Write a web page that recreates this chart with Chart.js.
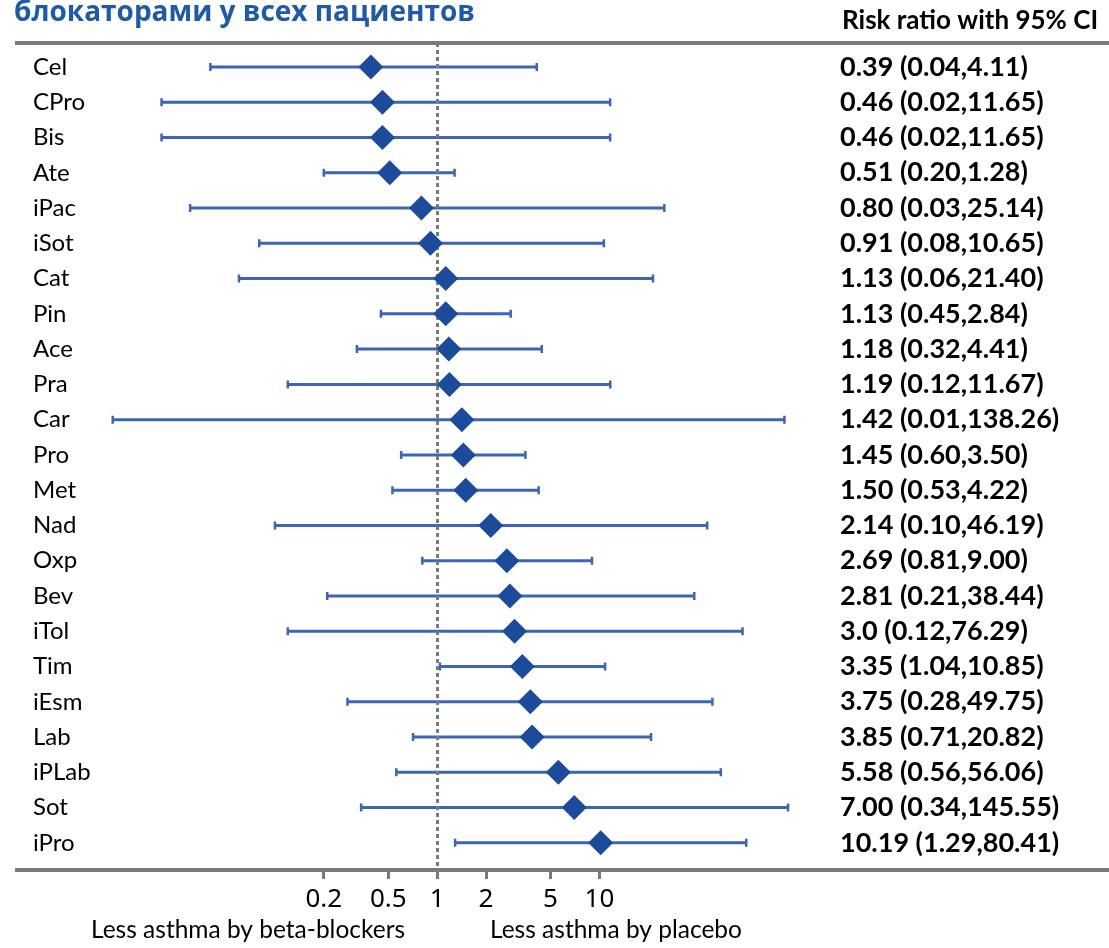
<!DOCTYPE html>
<html>
<head>
    <meta charset="utf-8">
    <title>Forest plot</title>
    <script src="https://cdn.jsdelivr.net/npm/chart.js"></script>
    <style>
        html, body { margin: 0; padding: 0; background: #ffffff; }
        #wrap { position: relative; width: 1109px; height: 948px; }
    </style>
</head>
<body>
    <div id="wrap"><canvas id="forestChart"></canvas></div>

    <script>
        // Drugs, top to bottom
        var drugs = ["Cel", "CPro", "Bis", "Ate", "iPac", "iSot", "Cat", "Pin", "Ace", "Pra", "Car",
            "Pro", "Met", "Nad", "Oxp", "Bev", "iTol", "Tim", "iEsm", "Lab", "iPLab", "Sot", "iPro"];

        // Risk ratio and 95% CI bounds, kept as printed
        var riskRatio = ["0.39", "0.46", "0.46", "0.51", "0.80", "0.91", "1.13", "1.13", "1.18", "1.19", "1.42",
            "1.45", "1.50", "2.14", "2.69", "2.81", "3.0", "3.35", "3.75", "3.85", "5.58", "7.00", "10.19"];
        var ciLower = ["0.04", "0.02", "0.02", "0.20", "0.03", "0.08", "0.06", "0.45", "0.32", "0.12", "0.01",
            "0.60", "0.53", "0.10", "0.81", "0.21", "0.12", "1.04", "0.28", "0.71", "0.56", "0.34", "1.29"];
        var ciUpper = ["4.11", "11.65", "11.65", "1.28", "25.14", "10.65", "21.40", "2.84", "4.41", "11.67", "138.26",
            "3.50", "4.22", "46.19", "9.00", "38.44", "76.29", "10.85", "49.75", "20.82", "56.06", "145.55", "80.41"];

        var xTicks = [0.2, 0.5, 1, 2, 5, 10];

        var titleText = "блокаторами у всех пациентов";
        var columnHeader = "Risk ratio with 95% CI";
        var leftNote = "Less asthma by beta-blockers";
        var rightNote = "Less asthma by placebo";

        var textFont = "Lato, 'Open Sans', sans-serif";
        var lineGray = "#7a7a7a";
        var barBlue = "#3d65b3";
        var diamondBlue = "#1d4b9b";

        var points = drugs.map(function (name, i) {
            return { x: Number(riskRatio[i]), y: i };
        });

        function rowTicks(scale) {
            scale.ticks = drugs.map(function (name, i) { return { value: i }; });
        }

        // keep the row axes from padding the plot area for their end labels
        function rowFit(width) {
            return function (scale) {
                scale.width = width;
                scale.paddingTop = 0;
                scale.paddingBottom = 0;
            };
        }

        // CI whiskers plus the dotted line of no effect, under the diamonds
        var intervalPlugin = {
            id: "intervals",
            beforeDatasetsDraw: function (chart) {
                var ctx = chart.ctx;
                var xs = chart.scales.x;
                var ys = chart.scales.y;
                ctx.save();
                ctx.strokeStyle = barBlue;
                drugs.forEach(function (name, i) {
                    var y = ys.getPixelForValue(i);
                    var x1 = xs.getPixelForValue(Number(ciLower[i]));
                    var x2 = xs.getPixelForValue(Number(ciUpper[i]));
                    ctx.lineWidth = 3;
                    ctx.beginPath();
                    ctx.moveTo(x1, y);
                    ctx.lineTo(x2, y);
                    ctx.stroke();
                    ctx.lineWidth = 2.5;
                    ctx.beginPath();
                    ctx.moveTo(x1, y - 4);
                    ctx.lineTo(x1, y + 4);
                    ctx.moveTo(x2, y - 4);
                    ctx.lineTo(x2, y + 4);
                    ctx.stroke();
                });
                var x0 = Math.round(xs.getPixelForValue(1)) + 0.5;
                ctx.strokeStyle = lineGray;
                ctx.lineWidth = 3;
                ctx.setLineDash([4, 3]);
                ctx.beginPath();
                ctx.moveTo(x0, chart.chartArea.top);
                ctx.lineTo(x0, chart.chartArea.bottom);
                ctx.stroke();
                ctx.restore();
            },
            afterDraw: function (chart) {
                var ctx = chart.ctx;
                var area = chart.chartArea;
                ctx.save();
                // rules above and below the rows
                ctx.fillStyle = lineGray;
                ctx.fillRect(15, area.top - 2, chart.width - 15, 4);
                ctx.fillRect(15, area.bottom - 2, chart.width - 15, 4);

                ctx.textBaseline = "alphabetic";
                ctx.textAlign = "left";
                ctx.fillStyle = "#1f5aa7";
                ctx.font = "bold 28px 'Open Sans', sans-serif";
                ctx.fillText(titleText, 14, 21);

                ctx.fillStyle = "#000000";
                ctx.font = "bold 26px " + textFont;
                ctx.fillText(columnHeader, 842, 29);

                ctx.font = "24.5px " + textFont;
                ctx.textBaseline = "middle";
                ctx.fillText(leftNote, 91, 930);
                ctx.fillText(rightNote, 490, 930);
                ctx.restore();
            }
        };

        var canvas = document.getElementById("forestChart");

        var chart = new Chart(canvas, {
            type: "scatter",
            data: {
                datasets: [{
                    data: points,
                    pointStyle: "rectRot",
                    pointRadius: 12.5,
                    pointHoverRadius: 12.5,
                    backgroundColor: diamondBlue,
                    borderWidth: 0
                }]
            },
            options: {
                responsive: true,
                maintainAspectRatio: false,
                animation: false,
                layout: { padding: { top: 43, left: 33, right: 0, bottom: 0 } },
                plugins: {
                    legend: { display: false },
                    tooltip: { enabled: false }
                },
                scales: {
                    x: {
                        type: "logarithmic",
                        min: 0.008,
                        max: 170,
                        afterBuildTicks: function (scale) {
                            scale.ticks = xTicks.map(function (v) { return { value: v }; });
                        },
                        afterFit: function (scale) { scale.height = 78; },
                        border: { display: false },
                        grid: {
                            drawOnChartArea: false,
                            drawTicks: true,
                            tickLength: 9,
                            color: lineGray,
                            lineWidth: 3
                        },
                        ticks: {
                            autoSkip: false,
                            maxRotation: 0,
                            padding: 5,
                            color: "#000000",
                            font: { family: "'Noto Sans', sans-serif", size: 26 },
                            callback: function (value) { return String(value); }
                        }
                    },
                    y: {
                        type: "linear",
                        reverse: true,
                        min: -0.68,
                        max: 22.77,
                        afterBuildTicks: rowTicks,
                        afterFit: rowFit(64),
                        border: { display: false },
                        grid: { display: false },
                        ticks: {
                            autoSkip: false,
                            crossAlign: "far",
                            color: "#000000",
                            font: { family: textFont, size: 24 },
                            callback: function (value) { return drugs[value]; }
                        }
                    },
                    y2: {
                        type: "linear",
                        position: "right",
                        reverse: true,
                        min: -0.68,
                        max: 22.77,
                        afterBuildTicks: rowTicks,
                        afterFit: rowFit(310),
                        border: { display: false },
                        grid: { display: false, drawTicks: false },
                        ticks: {
                            autoSkip: false,
                            crossAlign: "near",
                            padding: 41,
                            color: "#000000",
                            font: { family: textFont, size: 27, weight: "bold" },
                            callback: function (value) {
                                return riskRatio[value] + " (" + ciLower[value] + "," + ciUpper[value] + ")";
                            }
                        }
                    }
                }
            },
            plugins: [intervalPlugin]
        });
    </script>
</body>
</html>
